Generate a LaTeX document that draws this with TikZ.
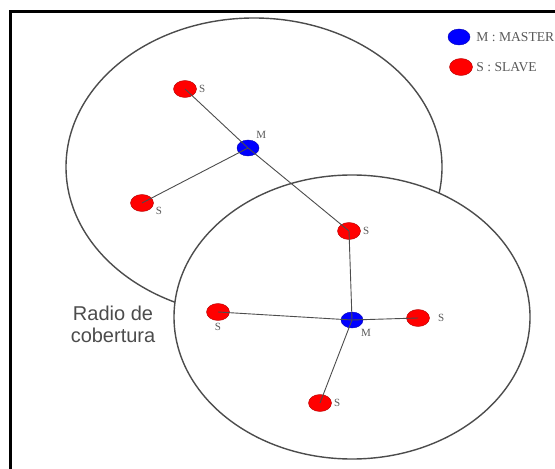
\documentclass[tikz,border=0pt]{standalone}
\usepackage{fontspec}
\setmainfont{Liberation Serif}
\newfontfamily\radiosans{Liberation Sans}
\usetikzlibrary{shapes.geometric}

\begin{document}
\begin{tikzpicture}[x=0.5pt, y=-0.5pt,
  master/.style={ellipse, fill=blue, draw=blue!70!black, line width=0.2pt,
    minimum width=11pt, minimum height=8pt, inner sep=0pt},
  slave/.style={ellipse, fill=red, draw=red!70!black, line width=0.2pt,
    minimum width=11.5pt, minimum height=8.5pt, inner sep=0pt},
  lbl/.style={font=\fontsize{5.5}{6}\selectfont, text=black!65, inner sep=1pt},
  link/.style={black!70, line width=0.45pt},
  zone/.style={black!70, line width=0.7pt}]

  \useasboundingbox (0,0) rectangle (555,469);

  % --- Frame ---
  \draw[line width=1.5pt] (10,469) -- (10,12) -- (555,12);

  % --- Coverage areas ---
  \begin{scope}[even odd rule]
    \clip (0,0) rectangle (555,469) (352,317) ellipse (178 and 142);
    \draw[zone] (254,167) ellipse (188 and 149);
  \end{scope}
  \draw[zone] (352,317) ellipse (178 and 142);

  \node[font=\radiosans\fontsize{10}{11}\selectfont, text=black!70, align=center]
    (radio) at (113,324) {Radio de\\cobertura};

  % --- Upper piconet ---
  \node[master, label={[lbl]50:M}] (m1) at (248,148) {};
  \node[slave, label={[lbl]0:S}] (s1) at (185,89) {};
  \node[slave, label={[lbl]-10:S}] (s2) at (142,203) {};
  \node[slave, label={[lbl]0:S}] (s3) at (349,231) {};

  % --- Lower piconet ---
  \node[master, label={[lbl]-45:M}] (m2) at (352,320) {};
  \node[slave, label={[lbl]-90:S}] (s4) at (218,312) {};
  \node[slave, label={[lbl, xshift=3pt]0:S}] (s5) at (418,318) {};
  \node[slave, label={[lbl]0:S}] (s6) at (320,403) {};

  % --- Links ---
  \foreach \a/\b in {m1/s1, m1/s2, m1/s3, m2/s3, m2/s4, m2/s5, m2/s6} {
    \draw[link] (\a.center) -- (\b.center);
  }

  % --- Legend ---
  \node[master] (legm) at (459,37) {};
  \node[lbl, font=\fontsize{6.8}{8}\selectfont, anchor=west] (legmtxt) at (474,37) {M : MASTER};
  \node[slave] (legs) at (461,67) {};
  \node[lbl, font=\fontsize{6.8}{8}\selectfont, anchor=west] (legstxt) at (474,67) {S : SLAVE};

\end{tikzpicture}
\end{document}
